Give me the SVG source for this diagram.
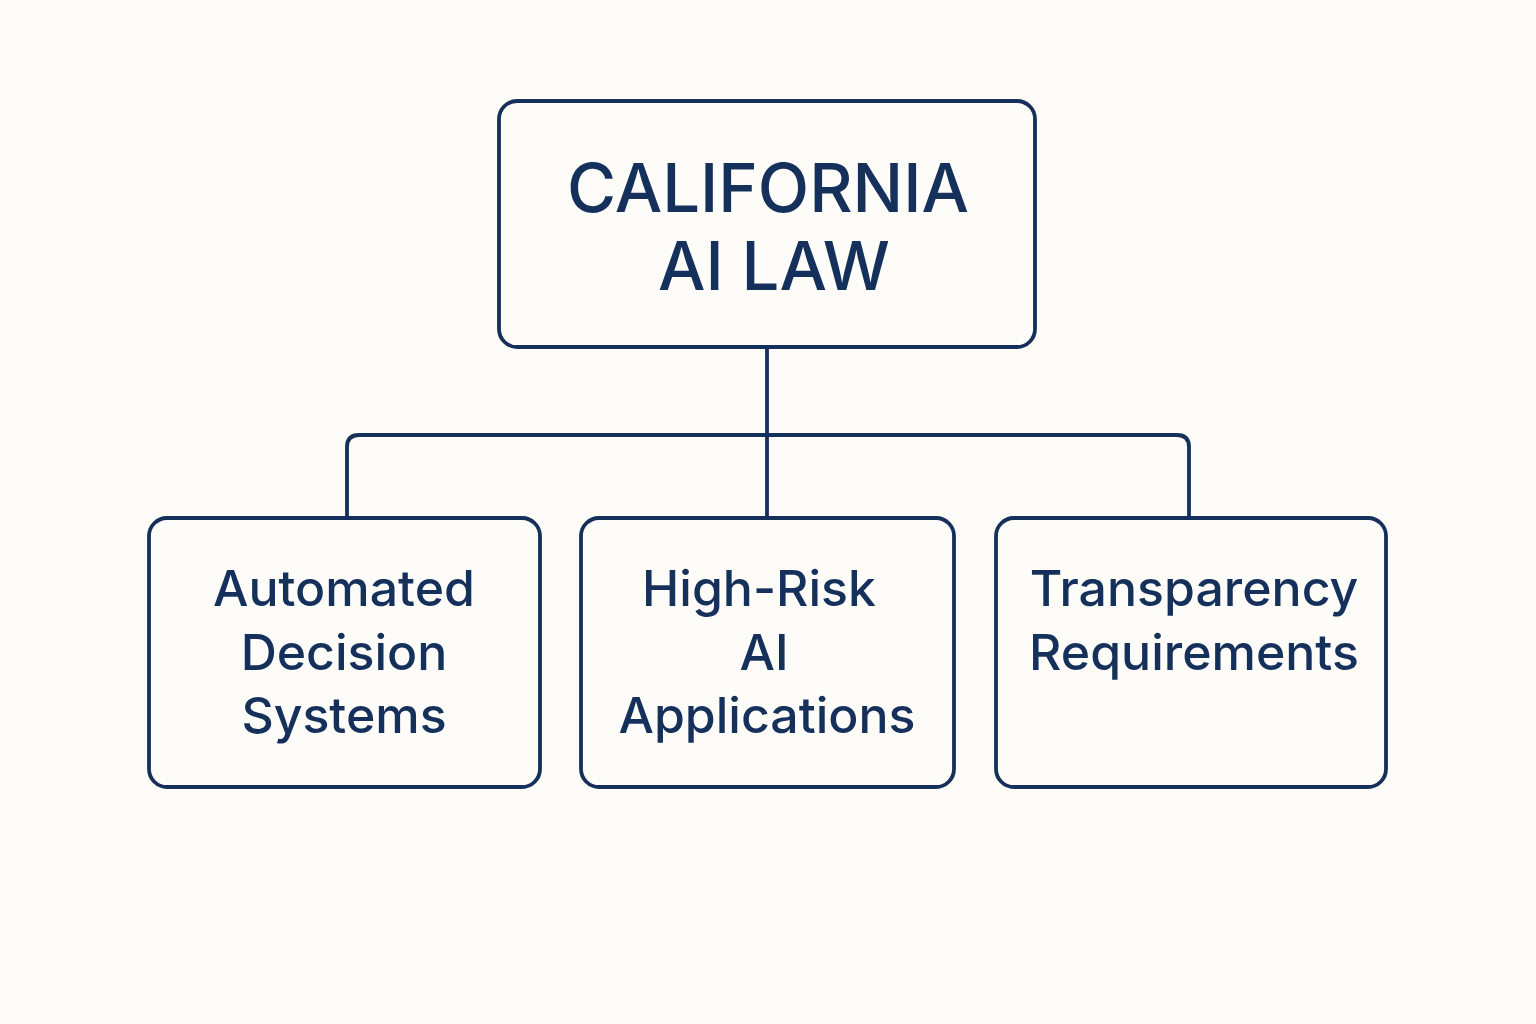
<svg xmlns="http://www.w3.org/2000/svg" width="1536" height="1024" viewBox="0 0 1536 1024">
<style>
.box{fill:#fdfcf9;stroke:#15305a;stroke-width:3.8}
.conn{fill:none;stroke:#15305a;stroke-width:3.8}
.t{font-family:Inter,"Liberation Sans",sans-serif;font-weight:500;fill:#15305a;text-anchor:middle}
.big{font-size:67px}
.sm{font-size:50px}
</style>
<rect width="1536" height="1024" fill="#fcfbf7"/>
<g id="connectors">
<path class="conn" d="M767 347 V518"/>
<path class="conn" d="M347 518 V447 Q347 435 359 435 H1177 Q1189 435 1189 447 V518"/>
</g>
<g id="root">
<rect class="box" x="499" y="101" width="536" height="246" rx="18"/>
<text class="t big" x="768" y="212">CALIFORNIA</text>
<text class="t big" x="774" y="290">AI LAW</text>
</g>
<g id="node-automated">
<rect class="box" x="149" y="518" width="391" height="269" rx="18"/>
<text class="t sm" x="344" y="606">Automated</text>
<text class="t sm" x="344" y="670">Decision</text>
<text class="t sm" x="344" y="733">Systems</text>
</g>
<g id="node-highrisk">
<rect class="box" x="581" y="518" width="373" height="269" rx="18"/>
<text class="t sm" x="759" y="606">High-Risk</text>
<text class="t sm" x="764" y="670">AI</text>
<text class="t sm" x="767" y="733">Applications</text>
</g>
<g id="node-transparency">
<rect class="box" x="996" y="518" width="390" height="269" rx="18"/>
<text class="t sm" x="1194" y="606">Transparency</text>
<text class="t sm" x="1194" y="670">Requirements</text>
</g>
</svg>
